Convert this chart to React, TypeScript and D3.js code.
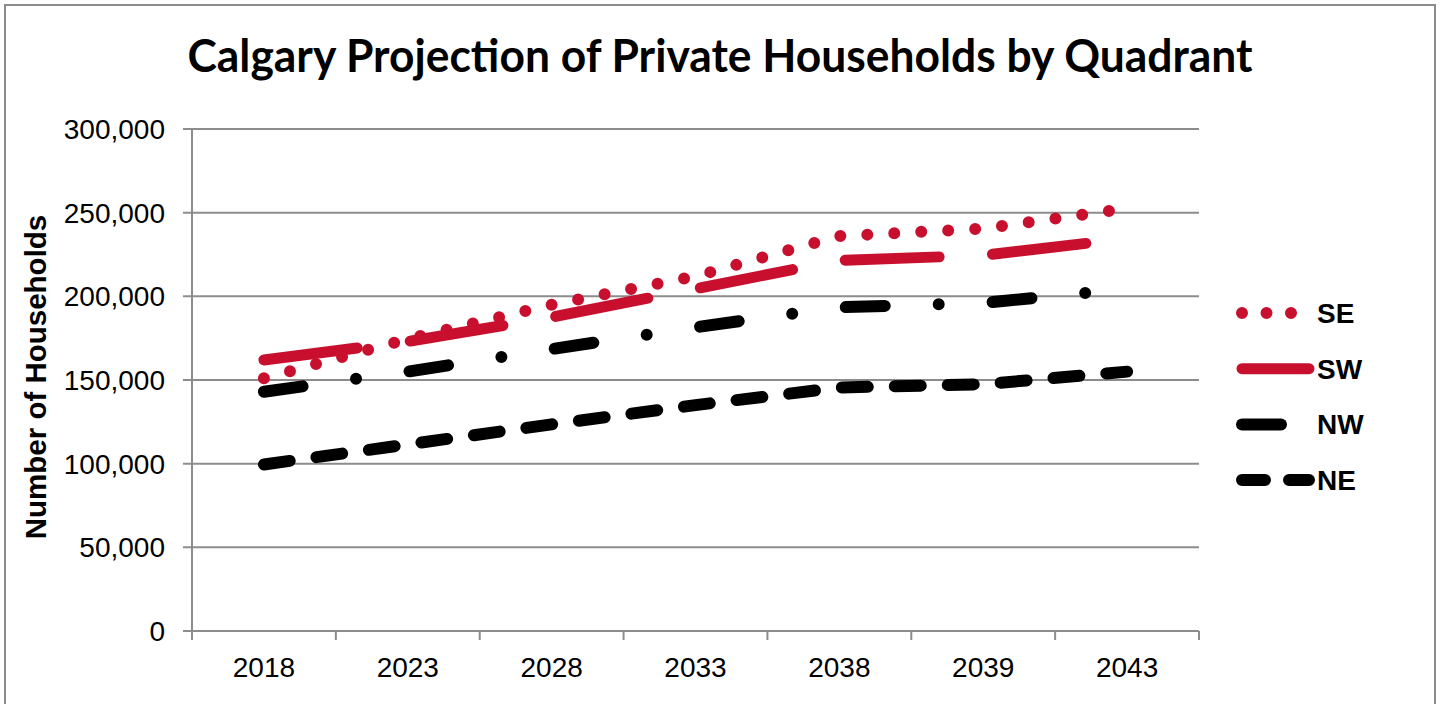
import { useRef, useEffect } from 'react';
import * as d3 from 'd3';

// Categories and values
const years = ['2018', '2023', '2028', '2033', '2038', '2039', '2043'];
const seValues = [151000, 174500, 195000, 212000, 236000, 240500, 252500];
const swValues = [162000, 173000, 187500, 204500, 221500, 224500, 234500];
const nwValues = [143000, 155000, 168500, 181500, 193500, 196000, 204500];
const neValues = [99500, 111500, 123500, 135000, 145500, 147500, 155000];
const seriesNames = ['SE', 'SW', 'NW', 'NE'];
const yTicks = [0, 50000, 100000, 150000, 200000, 250000, 300000];

const RED = '#c8102e';
const GRID = '#8c8c8c';

const seriesList = [
  { name: seriesNames[0], values: seValues, color: RED, dash: '0 27', width: 12 },
  { name: seriesNames[1], values: swValues, color: RED, dash: '94 53.5', width: 11 },
  { name: seriesNames[2], values: nwValues, color: '#000', dash: '39 54 0 54', width: 12 },
  { name: seriesNames[3], values: neValues, color: '#000', dash: '26 27', width: 12 }
];

export default function App() {
  const svgRef = useRef<SVGSVGElement>(null);
  const width = 1440;
  const height = 704;

  useEffect(() => {
    if (!svgRef.current) return;
    const svg = d3.select(svgRef.current);
    svg.selectAll('*').remove();

    const left = 192, right = 1199, top = 129, bottom = 631;

    const x = d3.scaleBand<string>().domain(years).range([left, right]);
    const xc = (d: string) => (x(d) ?? 0) + x.bandwidth() / 2;
    const y = d3.scaleLinear().domain([0, 300000]).range([bottom, top]);

    // outer frame
    svg.append('rect')
      .attr('x', 5).attr('y', 5)
      .attr('width', 1430).attr('height', 720)
      .attr('fill', '#fff')
      .attr('stroke', GRID)
      .attr('stroke-width', 2);

    // title
    svg.append('text')
      .attr('x', 720)
      .attr('y', 72)
      .attr('text-anchor', 'middle')
      .attr('font-family', 'Lato, "Open Sans", sans-serif')
      .attr('font-weight', 700)
      .attr('font-size', 45)
      .attr('textLength', 1065)
      .attr('lengthAdjust', 'spacingAndGlyphs')
      .attr('fill', '#000')
      .text('Calgary Projection of Private Households by Quadrant');

    // gridlines + y ticks
    yTicks.forEach(t => {
      svg.append('line')
        .attr('x1', left - 9).attr('x2', right)
        .attr('y1', y(t)).attr('y2', y(t))
        .attr('stroke', GRID).attr('stroke-width', 2);
      svg.append('text')
        .attr('x', 165)
        .attr('y', y(t))
        .attr('dy', '0.36em')
        .attr('text-anchor', 'end')
        .attr('font-family', '"Liberation Sans", Arial, sans-serif')
        .attr('font-size', 28)
        .attr('fill', '#000')
        .text(d3.format(',')(t));
    });

    // y axis line
    svg.append('line')
      .attr('x1', left).attr('x2', left)
      .attr('y1', top).attr('y2', bottom + 9)
      .attr('stroke', GRID).attr('stroke-width', 2);

    // x axis ticks at category boundaries
    const bounds = years.map(d => x(d) ?? 0).concat([right]);
    bounds.forEach(b => {
      svg.append('line')
        .attr('x1', b).attr('x2', b)
        .attr('y1', bottom).attr('y2', bottom + 9)
        .attr('stroke', GRID).attr('stroke-width', 2);
    });

    years.forEach(d => {
      svg.append('text')
        .attr('x', xc(d))
        .attr('y', 677)
        .attr('text-anchor', 'middle')
        .attr('font-family', '"Liberation Sans", Arial, sans-serif')
        .attr('font-size', 28)
        .attr('fill', '#000')
        .text(d);
    });

    // y axis title
    svg.append('text')
      .attr('transform', 'translate(46,377) rotate(-90)')
      .attr('text-anchor', 'middle')
      .attr('font-family', '"Liberation Sans", Arial, sans-serif')
      .attr('font-weight', 700)
      .attr('font-size', 29.5)
      .attr('fill', '#000')
      .text('Number of Households');

    // series lines
    const line = d3.line<number>()
      .x((_, i) => xc(years[i]))
      .y(d => y(d));

    seriesList.forEach(s => {
      svg.append('path')
        .attr('d', line(s.values) ?? '')
        .attr('fill', 'none')
        .attr('stroke', s.color)
        .attr('stroke-width', s.width)
        .attr('stroke-dasharray', s.dash)
        .attr('stroke-linecap', 'round')
        .attr('stroke-linejoin', 'round');
    });

    // legend
    seriesList.forEach((s, i) => {
      const ly = 313 + i * 55.7;
      svg.append('path')
        .attr('d', `M1242,${ly}L1309,${ly}`)
        .attr('fill', 'none')
        .attr('stroke', s.color)
        .attr('stroke-width', s.width)
        .attr('stroke-dasharray', s.name === 'SW' ? null : s.name === 'SE' ? '0 24.5' : s.name === 'NE' ? '23 24' : s.dash)
        .attr('stroke-linecap', 'round');
      svg.append('text')
        .attr('x', 1317)
        .attr('y', ly)
        .attr('dy', '0.36em')
        .attr('font-family', '"Liberation Sans", Arial, sans-serif')
        .attr('font-weight', 700)
        .attr('font-size', 28)
        .attr('fill', '#000')
        .text(s.name);
    });
  }, []);

  return (
    <div style={{ position: 'absolute', left: 0, top: 0 }}>
      <svg ref={svgRef} width={width} height={height} style={{ display: 'block' }}></svg>
    </div>
  );
}
